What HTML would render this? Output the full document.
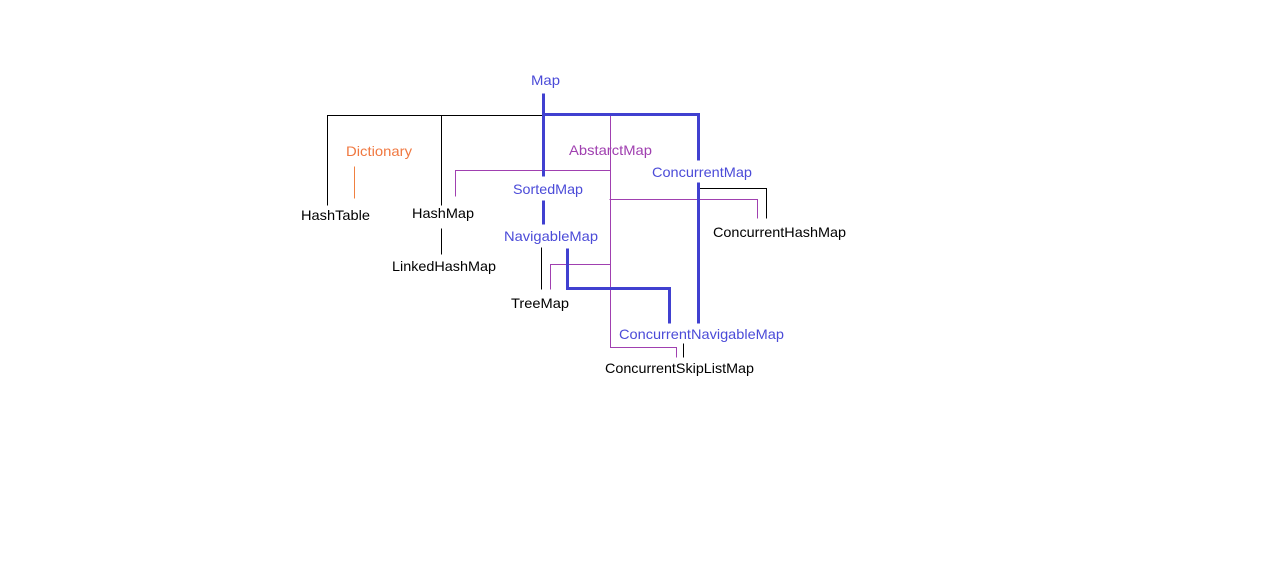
<!DOCTYPE html>
<html><head><style>body{margin:0;background:#fff}svg{display:block}text{font-family:"Liberation Sans",sans-serif;font-size:14px}</style></head>
<body>
<svg width="1265" height="587" xmlns="http://www.w3.org/2000/svg">
<g fill="none" stroke-linecap="square">
<g stroke="#000" stroke-width="1">
<path d="M327.5 205V115.5H543"/>
<path d="M441.5 115.5V205"/>
<path d="M441.5 229V254"/>
<path d="M698 188.5H766.5V218"/>
<path d="M541.5 248V289"/>
<path d="M683.5 344V357"/>
</g>
<path d="M354.5 167V198" stroke="#f08040"/>
<g stroke="#a040b0" stroke-width="1">
<path d="M610.5 114V347.5H676.5V357"/>
<path d="M610 170.5H455.5V196"/>
<path d="M610 199.5H757.5V218"/>
<path d="M610 264.5H550.5V289"/>
</g>
<g stroke="#4040d0" stroke-width="3">
<path d="M543.5 95V175"/>
<path d="M543.5 114.5H698.5V159"/>
<path d="M543.5 202V223"/>
<path d="M567.5 250V288.5H669.5V322"/>
<path d="M698.5 184V322"/>
</g>
</g>
<g lengthAdjust="spacingAndGlyphs">
<text x="531" y="85" fill="#4b4bd8" textLength="29" lengthAdjust="spacingAndGlyphs">Map</text>
<text x="346" y="156" fill="#f07840" textLength="66" lengthAdjust="spacingAndGlyphs">Dictionary</text>
<text x="301" y="220" fill="#000" textLength="69" lengthAdjust="spacingAndGlyphs">HashTable</text>
<text x="412" y="218" fill="#000" textLength="62" lengthAdjust="spacingAndGlyphs">HashMap</text>
<text x="392" y="271" fill="#000" textLength="104" lengthAdjust="spacingAndGlyphs">LinkedHashMap</text>
<text x="513" y="194" fill="#4b4bd8" textLength="70" lengthAdjust="spacingAndGlyphs">SortedMap</text>
<text x="569" y="155" fill="#a040b0" textLength="83" lengthAdjust="spacingAndGlyphs">AbstarctMap</text>
<text x="652" y="177" fill="#4b4bd8" textLength="100" lengthAdjust="spacingAndGlyphs">ConcurrentMap</text>
<text x="504" y="241" fill="#4b4bd8" textLength="94" lengthAdjust="spacingAndGlyphs">NavigableMap</text>
<text x="713" y="237" fill="#000" textLength="133" lengthAdjust="spacingAndGlyphs">ConcurrentHashMap</text>
<text x="511" y="308" fill="#000" textLength="58" lengthAdjust="spacingAndGlyphs">TreeMap</text>
<text x="619" y="339" fill="#4b4bd8" textLength="165" lengthAdjust="spacingAndGlyphs">ConcurrentNavigableMap</text>
<text x="605" y="373" fill="#000" textLength="149" lengthAdjust="spacingAndGlyphs">ConcurrentSkipListMap</text>
</g>
</svg>
</body></html>
